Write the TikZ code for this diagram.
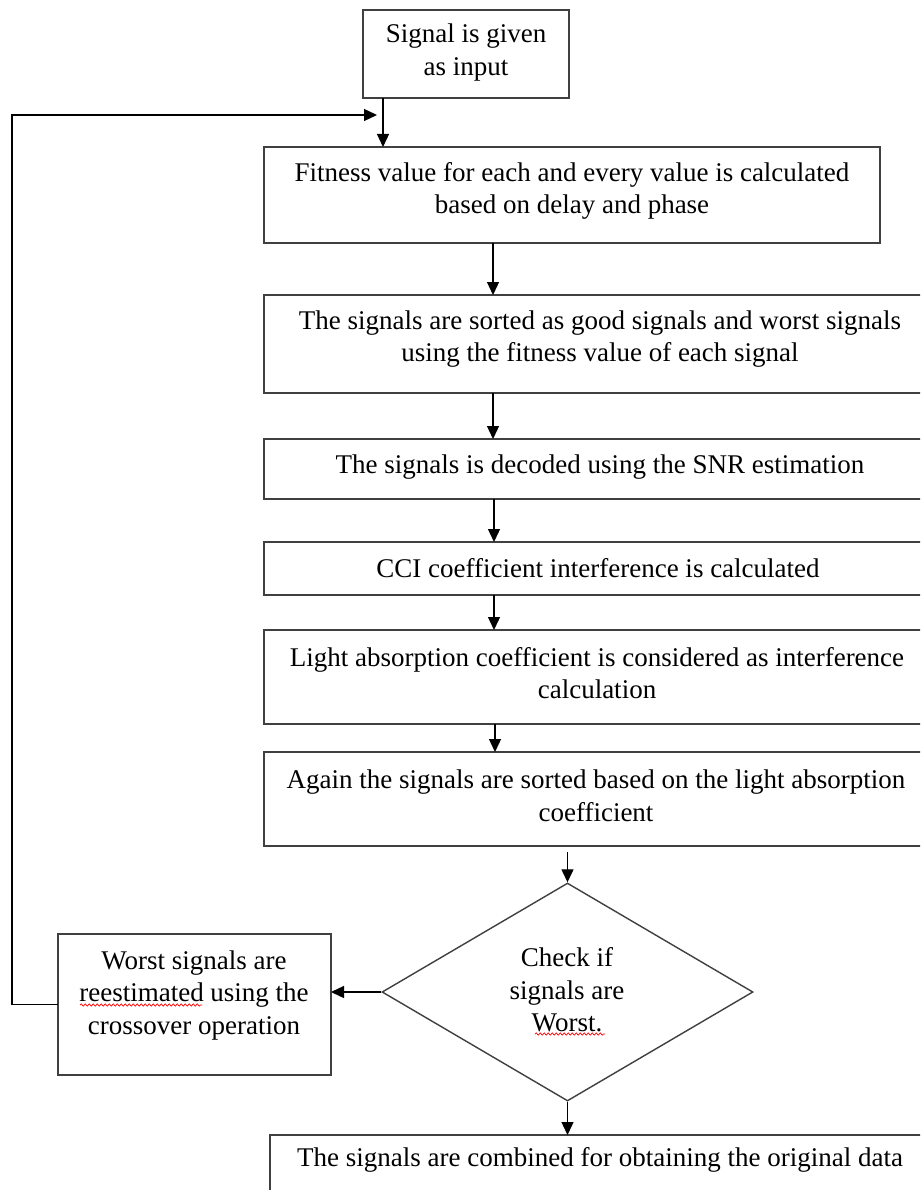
\documentclass[tikz,border=0pt]{standalone}
\usepackage{fontspec}
\setmainfont{Liberation Serif}
\usetikzlibrary{arrows.meta,shapes.geometric,decorations.pathmorphing}
\begin{document}
\begin{tikzpicture}[x=1pt,y=-1pt,
  box/.style={draw=black!75,line width=1.4pt,inner sep=0pt,outer sep=0pt,anchor=north west},
  txt/.style={align=center,font=\fontsize{27}{32.5}\selectfont,inner sep=0pt},
  arr/.style={draw=black,line width=1.3pt,-{Triangle[length=13pt,width=12pt]}},
  squig/.style={draw=red,line width=0.7pt,decorate,decoration={snake,amplitude=1.1pt,segment length=4pt}}]
\useasboundingbox (0,0) rectangle (920,1190);
\clip (0,0) rectangle (920,1190);
\fill[white] (0,0) rectangle (920,1190);

% boxes
\node[box,minimum width=206pt,minimum height=88pt] (b1) at (363,10) {};
\node[txt] (t1) at (466,52.5) {Signal is given\\as input};
\node[box,minimum width=616pt,minimum height=96pt] (b2) at (264,147) {};
\node[txt] (t2) at (572,191) {Fitness value for each and every value is calculated\\based on delay and phase};
\node[box,minimum width=674pt,minimum height=98pt] (b3) at (264,295) {};
\node[txt] (t3) at (600,339) {The signals are sorted as good signals and worst signals\\using the fitness value of each signal};
\node[box,minimum width=674pt,minimum height=60pt] (b4) at (264,439) {};
\node[txt] (t4) at (600,467) {The signals is decoded using the SNR estimation};
\node[box,minimum width=674pt,minimum height=53pt] (b5) at (264,542) {};
\node[txt] (t5) at (598,568) {CCI coefficient interference is calculated};
\node[box,minimum width=674pt,minimum height=94pt] (b6) at (264,630) {};
\node[txt] (t6) at (597,673) {Light absorption coefficient is considered as interference\\calculation};
\node[box,minimum width=674pt,minimum height=94pt] (b7) at (264,752) {};
\node[txt] (t7) at (596,796) {Again the signals are sorted based on the light absorption\\coefficient};
\node[draw=black!75,line width=1.4pt,diamond,minimum width=371pt,minimum height=218pt,inner sep=0pt] (d) at (567.5,992) {};
\node[txt] (td) at (567,990) {Check if\\signals are\\Worst.};
\node[box,minimum width=273pt,minimum height=141pt] (b9) at (58,934) {};
\node[txt] (t9) at (194,995) {Worst signals are\\reestimated using the\\crossover operation};
\node[box,minimum width=668pt,minimum height=100pt] (b8) at (270,1135) {};
\node[txt] (t8) at (600,1160) {The signals are combined for obtaining the original data};

% spell-check squiggles
\draw[squig] (80,1005) -- (202,1005);
\draw[squig] (535,1034) -- (605,1034);

% connectors
\coordinate (j) at (383,115);
\coordinate (lc) at (12,115);
\coordinate (lp) at (377,115);
\coordinate (c1) at (493,0);
\coordinate (c2) at (494,0);
\coordinate (c3) at (495,0);
\draw[arr] (b1.south -| j) -- (b2.north -| j);
\draw[arr] (b9.west) -| (lc) -- (lp);
\draw[arr] (b2.south -| c1) -- (b3.north -| c1);
\draw[arr] (b3.south -| c1) -- (b4.north -| c1);
\draw[arr] (b4.south -| c2) -- (b5.north -| c2);
\draw[arr] (b5.south -| c2) -- (b6.north -| c2);
\draw[arr] (b6.south -| c3) -- (b7.north -| c3);
\draw[arr] ([yshift=-6pt]b7.south -| d.north) -- (d.north);
\draw[arr] (d.west) -- (b9.east |- d.west);
\draw[arr] (d.south) -- (b8.north -| d.south);
\end{tikzpicture}
\end{document}
